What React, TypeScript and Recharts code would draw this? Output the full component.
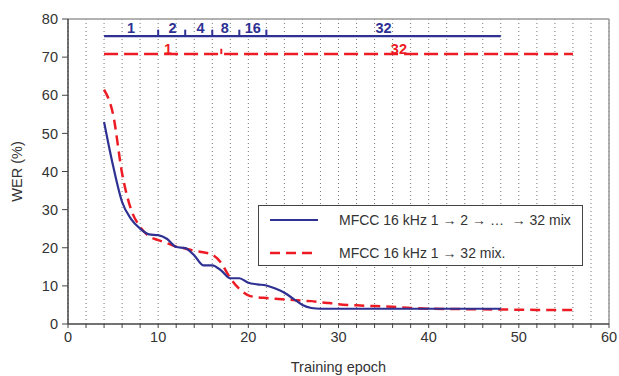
import {
  LineChart,
  Line,
  XAxis,
  YAxis,
  CartesianGrid,
  ReferenceLine,
  ReferenceDot,
  Label,
  Legend,
} from 'recharts'

const FONT = '"Liberation Sans", Arial, sans-serif'
const BLUE = '#2e3192'
const RED = '#ed1c24'

// training curves (epoch -> WER %)
const blueEpochs = [
  4, 5, 6, 7, 8, 9, 10, 11, 12, 13, 14, 15, 16, 17, 18, 19, 20, 21, 22, 23, 24, 25, 26, 27, 28,
  30, 32, 34, 36, 38, 40, 42, 44, 46, 48,
]
const blueWer = [
  53, 41.5, 32, 27.5, 25, 23.5, 23.3, 22.3, 20.2, 19.9, 18, 15.4, 15.4, 14, 12, 12, 10.8, 10.4,
  10.1, 9.3, 8.2, 6.6, 5, 4.2, 4, 4, 4, 4, 4, 4, 4, 4, 4, 4, 4,
]
const redEpochs = [
  4, 5, 6, 7, 8, 9, 10, 11, 12, 13, 14, 15, 16, 17, 18, 19, 20, 21, 22, 23, 24, 25, 26, 27, 28,
  29, 30, 31, 32, 34, 36, 38, 40, 44, 48, 52, 56,
]
const redWer = [
  61.5, 55, 39.5, 30, 25.5, 23, 22, 21.2, 20.3, 19.8, 19.2, 18.8, 18.2, 16, 12, 9.2, 7.5, 7, 6.8,
  6.6, 6.4, 6.3, 6.1, 6, 5.7, 5.5, 5.2, 5, 4.9, 4.7, 4.5, 4.2, 4, 3.9, 3.8, 3.7, 3.7,
]

const blueName = 'MFCC 16 kHz 1 \u2192 2 \u2192 \u2026  \u2192 32 mix'
const redName = 'MFCC 16 kHz 1 \u2192 32 mix.'

// mixture-splitting schedule shown at the top
const blueLevel = 75.5
const blueStart = 4
const blueEnd = 48
const blueSplits = [10, 13, 16, 19, 22]
const blueStageX = [7, 11.6, 14.7, 17.4, 20.5, 35]
const blueStageText = ['1', '2', '4', '8', '16', '32']

const redLevel = 70.8
const redStart = 4
const redEnd = 56
const redSplits = [17]
const redStageX = [11.1, 36.7]
const redStageText = ['1', '32']

const xTicks = [
  0, 2, 4, 6, 8, 10, 12, 14, 16, 18, 20, 22, 24, 26, 28, 30, 32, 34, 36, 38, 40, 42, 44, 46, 48,
  50, 52, 54, 56, 58, 60,
]
const xLabels = [0, 10, 20, 30, 40, 50, 60]
const yTicks = [0, 10, 20, 30, 40, 50, 60, 70, 80]

const allEpochs = Array.from(new Set([...blueEpochs, ...redEpochs])).sort((a, b) => a - b)
const data = allEpochs.map((epoch) => {
  const bi = blueEpochs.indexOf(epoch)
  const ri = redEpochs.indexOf(epoch)
  return {
    epoch,
    blue: bi >= 0 ? blueWer[bi] : undefined,
    red: ri >= 0 ? redWer[ri] : undefined,
  }
})

function LegendBox({ payload }: any) {
  const order = [blueName, redName]
  const items = [...(payload || [])].sort(
    (a: any, b: any) => order.indexOf(a.value) - order.indexOf(b.value),
  )
  return (
    <div
      style={{
        width: 325,
        height: 61,
        boxSizing: 'border-box',
        border: '1.5px solid #444',
        background: '#fff',
        position: 'relative',
      }}
    >
      {items.map((item: any, i: number) => (
        <div
          key={item.value}
          style={{
            position: 'absolute',
            left: 0,
            top: i === 0 ? 4 : 37,
            height: 20,
            display: 'flex',
            alignItems: 'center',
          }}
        >
          <svg width={80} height={20}>
            <line
              x1={11}
              x2={59}
              y1={10}
              y2={10}
              stroke={item.color}
              strokeWidth={item.value === redName ? 2.5 : 2.2}
              strokeDasharray={item.value === redName ? '10 6' : undefined}
            />
          </svg>
          <span style={{ fontFamily: FONT, fontSize: 14, color: '#333', whiteSpace: 'pre' }}>
            {item.value}
          </span>
        </div>
      ))}
    </div>
  )
}

export default function App() {
  const stageLabel = (text: string, color: string, offset: number) => ({
    value: text,
    position: 'top' as const,
    offset,
    fill: color,
    fontSize: 14.5,
    fontWeight: 'bold',
    fontFamily: FONT,
  })

  return (
    <div style={{ position: 'absolute', left: 0, top: 0, width: 619, height: 376, background: '#fff' }}>
      <LineChart
        width={619}
        height={376}
        data={data}
        margin={{ top: 19, right: 10, bottom: 12, left: 0 }}
      >
        <CartesianGrid horizontal={false} stroke="#777" strokeDasharray="1 3" />
        <XAxis
          type="number"
          dataKey="epoch"
          domain={[0, 60]}
          ticks={xTicks}
          interval={0}
          tickFormatter={(v) => (xLabels.includes(v) ? String(v) : '')}
          height={40}
          tickSize={4}
          tickMargin={4}
          axisLine={{ stroke: '#444', strokeWidth: 1.5 }}
          tickLine={{ stroke: '#444' }}
          tick={{ fill: '#333', fontSize: 14.5, fontFamily: FONT }}
        >
          <Label
            value="Training epoch"
            position="insideBottom"
            offset={-8}
            style={{ fill: '#333', fontSize: 14.5, fontFamily: FONT }}
          />
        </XAxis>
        <YAxis
          type="number"
          domain={[0, 80]}
          ticks={yTicks}
          width={68}
          tickSize={6}
          tickMargin={4}
          axisLine={{ stroke: '#444', strokeWidth: 1.5 }}
          tickLine={{ stroke: '#444' }}
          tick={{ fill: '#333', fontSize: 14.5, fontFamily: FONT }}
        >
          <Label
            value="WER (%)"
            angle={-90}
            position="insideLeft"
            offset={17}
            style={{ fill: '#333', fontSize: 14.5, fontFamily: FONT, textAnchor: 'middle' }}
          />
        </YAxis>

        {/* frame top / right */}
        <ReferenceLine y={80} stroke="#999" strokeWidth={1.5} />
        <ReferenceLine x={60} stroke="#999" strokeWidth={1.5} />

        {/* splitting schedules */}
        <ReferenceLine
          segment={[
            { x: blueStart, y: blueLevel },
            { x: blueEnd, y: blueLevel },
          ]}
          stroke={BLUE}
          strokeWidth={2.2}
        />
        {blueSplits.map((x) => (
          <ReferenceLine
            key={`bs${x}`}
            segment={[
              { x, y: blueLevel },
              { x, y: blueLevel + 1.7 },
            ]}
            stroke={BLUE}
            strokeWidth={2}
          />
        ))}
        {blueStageX.map((x, i) => (
          <ReferenceDot
            key={`bl${i}`}
            x={x}
            y={blueLevel}
            r={0}
            stroke="none"
            label={stageLabel(blueStageText[i], BLUE, 3)}
          />
        ))}
        <ReferenceLine
          segment={[
            { x: redStart, y: redLevel },
            { x: redEnd, y: redLevel },
          ]}
          stroke={RED}
          strokeWidth={2.5}
          strokeDasharray="14 6"
        />
        {redSplits.map((x) => (
          <ReferenceLine
            key={`rs${x}`}
            segment={[
              { x, y: redLevel },
              { x, y: redLevel + 1.4 },
            ]}
            stroke={RED}
            strokeWidth={2}
          />
        ))}
        {redStageX.map((x, i) => (
          <ReferenceDot
            key={`rl${i}`}
            x={x}
            y={redLevel}
            r={0}
            stroke="none"
            label={stageLabel(redStageText[i], RED, 0)}
          />
        ))}

        <Line
          type="monotone"
          dataKey="red"
          name={redName}
          stroke={RED}
          strokeWidth={2.5}
          strokeDasharray="10 6"
          dot={false}
          connectNulls
          isAnimationActive={false}
        />
        <Line
          type="monotone"
          dataKey="blue"
          name={blueName}
          stroke={BLUE}
          strokeWidth={2.2}
          dot={false}
          connectNulls
          isAnimationActive={false}
        />
        <Legend
          layout="vertical"
          align="center"
          verticalAlign="middle"
          content={<LegendBox />}
          wrapperStyle={{ left: 258, top: 205, width: 325, height: 61 }}
        />
      </LineChart>
    </div>
  )
}
